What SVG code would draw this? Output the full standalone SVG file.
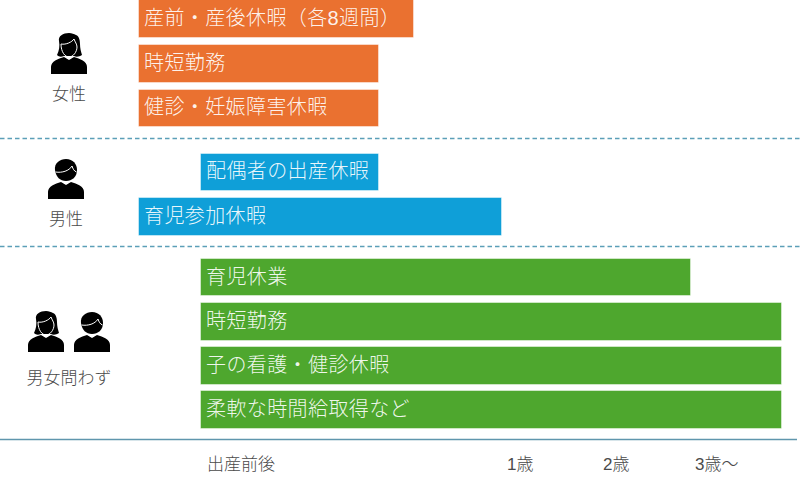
<svg xmlns="http://www.w3.org/2000/svg" width="800" height="486" viewBox="0 0 800 486">
<defs>
<style>
text{font-family:"Liberation Sans","Noto Sans CJK JP",sans-serif}
.b{stroke:#fff;stroke-opacity:.45;stroke-width:1}
.o{fill:#ea7130}.c{fill:#0f9fd8}.g{fill:#4ea72e}
.t{fill:#fff;fill-opacity:.92;font-size:20px;font-weight:300;letter-spacing:.4px}
.l{fill:#4a4a4a;font-size:17px;font-weight:300}
.d{stroke:#5b9fb8;stroke-width:1.3;stroke-dasharray:4.500 3;fill:none}
.s{stroke:#5f96ad;stroke-width:1.6;fill:none}
.w{fill:none;stroke:#fff;stroke-width:1}
</style>
<path id="body" d="M-18 14V7C-18 1-11-1-5-3L0 0 5-3C11-1 18 1 18 7V14Z"/>
<g id="woman"><path d="M-10-19C-11-24-6-27 0-27C3-27 5-26 7-25C10-24 11-20 11-16C11-12 12-8 13-5C10-3 7-3 5-4H-5C-8-3-10-3-12-5C-10-9-9-14-10-19Z"/><path class="w" d="M-8-16C-3-15 3-18 5-21C6-18 8-16 8-13C8-8 4-3 0-3C-4-3-8-8-8-16Z"/><use href="#body"/></g>
<g id="man"><path d="M-11-15C-12-22-6-26 0-26C7-26 11-21 11-15C11-8 6-4 0-4C-6-4-10-8-11-15Z"/><path class="w" d="M-10.500-13C-4-12 3-14 6-19C7-16 8-14 10.500-13"/><use href="#body"/></g>
</defs>
<rect width="800" height="486" fill="#fff"/>
<g id="connectors">
<line class="d" x1="0" y1="138.500" x2="800" y2="138.500"/>
<line class="d" x1="0" y1="246.500" x2="800" y2="246.500"/>
<line class="s" x1="0" y1="439.500" x2="797" y2="439.500"/>
</g>
<g id="bar-sanzen"><rect class="o b" x="138.500" y="-1" width="275" height="38.500"/><text class="t" x="144" y="25">産前・産後休暇（各8週間）</text></g>
<g id="bar-jitan-f"><rect class="o b" x="138.500" y="44.500" width="240" height="38"/><text class="t" x="144" y="70">時短勤務</text></g>
<g id="bar-kenshin-f"><rect class="o b" x="138.500" y="89.500" width="240" height="37"/><text class="t" x="144" y="114">健診・妊娠障害休暇</text></g>
<g id="bar-haigu"><rect class="c b" x="200.500" y="153.500" width="178" height="37"/><text class="t" x="206" y="178">配偶者の出産休暇</text></g>
<g id="bar-sanka"><rect class="c b" x="138.500" y="197.500" width="363" height="38"/><text class="t" x="144" y="223">育児参加休暇</text></g>
<g id="bar-ikuji"><rect class="g b" x="200.500" y="258.500" width="490" height="37"/><text class="t" x="206" y="284">育児休業</text></g>
<g id="bar-jitan"><rect class="g b" x="200.500" y="302.500" width="581" height="38"/><text class="t" x="206" y="328">時短勤務</text></g>
<g id="bar-ko"><rect class="g b" x="200.500" y="346.500" width="581" height="38"/><text class="t" x="206" y="372">子の看護・健診休暇</text></g>
<g id="bar-junan"><rect class="g b" x="200.500" y="390.500" width="581" height="38"/><text class="t" x="206" y="416">柔軟な時間給取得など</text></g>
<g id="node-female"><use href="#woman" x="69" y="60"/><text class="l" x="69" y="100" text-anchor="middle">女性</text></g>
<g id="node-male"><use href="#man" x="66" y="185"/><text class="l" x="66" y="225" text-anchor="middle">男性</text></g>
<g id="node-both"><use href="#woman" x="46" y="338"/><use href="#man" x="92" y="338"/><text class="l" x="69" y="384" text-anchor="middle">男女問わず</text></g>
<g id="axis-labels">
<text class="l" x="207" y="470">出産前後</text>
<text class="l" x="507" y="470">1歳</text>
<text class="l" x="603" y="470">2歳</text>
<text class="l" x="695" y="470">3歳〜</text>
</g>
</svg>
